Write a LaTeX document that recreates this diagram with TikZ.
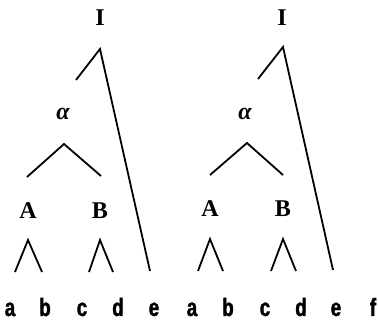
\documentclass[tikz,border=0pt]{standalone}
\usepackage{fontspec}
\setmainfont{Liberation Serif}
\newfontfamily\leaffont{Liberation Sans}[UprightFont={* Bold}, FakeStretch=0.75, FakeBold=1.5]
\usetikzlibrary{positioning}

\begin{document}
\begin{tikzpicture}[x=1pt, y=-1pt, line width=1.8pt,
  cat/.style={font=\fontsize{24}{24}\selectfont\bfseries, inner sep=0pt},
  leaf/.style={font=\fontsize{25}{25}\selectfont\leaffont, inner sep=0pt, anchor=base}]
  \useasboundingbox (0,0) rectangle (378,320);

  % left tree
  \node[cat] (I1) at (100,18) {I};
  \coordinate (I1top) at (100,49);
  \coordinate (I1arm) at (76,80);
  \coordinate (I1end) at (150,271);
  \draw (I1arm) -- (I1top) -- (I1end);

  \node[cat] (al1) at (63,114) {\itshape α};
  \coordinate (al1top) at (64,144);
  \coordinate (al1l) at (27,177);
  \coordinate (al1r) at (101,176);
  \draw (al1l) -- (al1top) -- (al1r);

  \node[cat] (A1) at (28,211) {A};
  \node[cat] (B1) at (100,211) {B};
  \coordinate (A1top) at (28,240);
  \coordinate (A1l) at (15,272);
  \coordinate (A1r) at (42,272);
  \coordinate (B1top) at (100,240);
  \coordinate (B1l) at (89,272);
  \coordinate (B1r) at (113,272);
  \draw (A1l) -- (A1top) -- (A1r);
  \draw (B1l) -- (B1top) -- (B1r);

  \node[leaf] (a1) at (10,316) {a};
  \node[leaf] (b1) at (45,316) {b};
  \node[leaf] (c1) at (82,316) {c};
  \node[leaf] (d1) at (118,316) {d};
  \node[leaf] (e1) at (154,316) {e};

  % right tree
  \node[cat] (I2) at (282,18) {I};
  \coordinate (I2top) at (283,47);
  \coordinate (I2arm) at (258,79);
  \coordinate (I2end) at (333,270);
  \draw (I2arm) -- (I2top) -- (I2end);

  \node[cat] (al2) at (245,114) {\itshape α};
  \coordinate (al2top) at (247,143);
  \coordinate (al2l) at (210,175);
  \coordinate (al2r) at (283,175);
  \draw (al2l) -- (al2top) -- (al2r);

  \node[cat] (A2) at (210,209) {A};
  \node[cat] (B2) at (283,209) {B};
  \coordinate (A2top) at (210,239);
  \coordinate (A2l) at (198,271);
  \coordinate (A2r) at (223,271);
  \coordinate (B2top) at (283,239);
  \coordinate (B2l) at (271,271);
  \coordinate (B2r) at (296,271);
  \draw (A2l) -- (A2top) -- (A2r);
  \draw (B2l) -- (B2top) -- (B2r);

  \node[leaf] (a2) at (192,316) {a};
  \node[leaf] (b2) at (228,316) {b};
  \node[leaf] (c2) at (265,316) {c};
  \node[leaf] (d2) at (301,316) {d};
  \node[leaf] (e2) at (336,316) {e};
  \node[leaf] (f2) at (373,316) {f};
\end{tikzpicture}
\end{document}
